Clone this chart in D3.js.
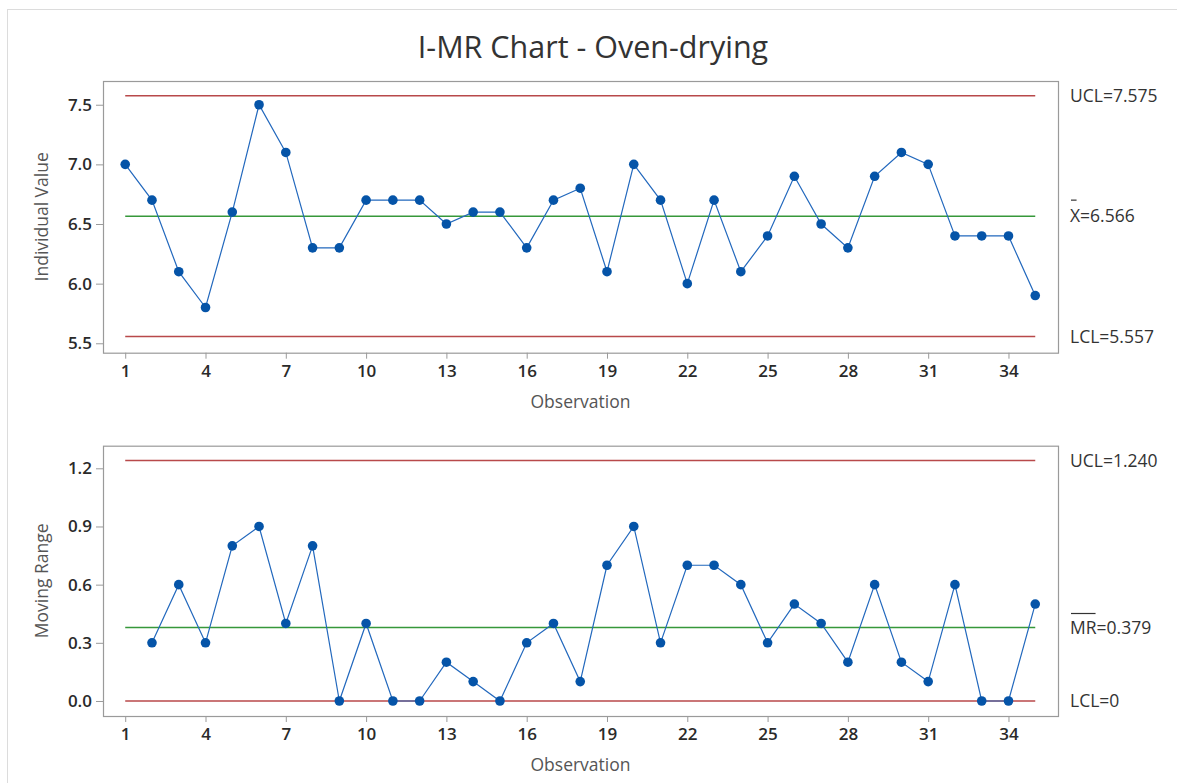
<!DOCTYPE html>
<html>
<head>
<meta charset="utf-8">
<script src="https://cdn.jsdelivr.net/npm/d3@7"></script>
<style>
  html, body { margin: 0; padding: 0; background: #fff; }
  svg { display: block; }
  text { font-family: "Open Sans", "Noto Sans", sans-serif; }
</style>
</head>
<body>
<svg id="chart" width="1177" height="783"></svg>
<script>
// ---- Data ----
const observations = d3.range(1, 36);
const individualValues = [7.0, 6.7, 6.1, 5.8, 6.6, 7.5, 7.1, 6.3, 6.3, 6.7,
  6.7, 6.7, 6.5, 6.6, 6.6, 6.3, 6.7, 6.8, 6.1, 7.0,
  6.7, 6.0, 6.7, 6.1, 6.4, 6.9, 6.5, 6.3, 6.9, 7.1,
  7.0, 6.4, 6.4, 6.4, 5.9];
const movingRanges = [null, 0.3, 0.6, 0.3, 0.8, 0.9, 0.4, 0.8, 0.0, 0.4,
  0.0, 0.0, 0.2, 0.1, 0.0, 0.3, 0.4, 0.1, 0.7, 0.9,
  0.3, 0.7, 0.7, 0.6, 0.3, 0.5, 0.4, 0.2, 0.6, 0.2,
  0.1, 0.6, 0.0, 0.0, 0.5];
const xTickValues = [1, 4, 7, 10, 13, 16, 19, 22, 25, 28, 31, 34];
const iTickValues = [5.5, 6.0, 6.5, 7.0, 7.5];
const mrTickValues = [0.0, 0.3, 0.6, 0.9, 1.2];
const iLimits = { ucl: 7.575, center: 6.566, lcl: 5.557 };
const mrLimits = { ucl: 1.240, center: 0.379, lcl: 0 };
const iLimitLabels = { ucl: "UCL=7.575", centerSym: "X", centerVal: "=6.566", lcl: "LCL=5.557" };
const mrLimitLabels = { ucl: "UCL=1.240", centerSym: "MR", centerVal: "=0.379", lcl: "LCL=0" };
const titleText = "I-MR Chart - Oven-drying";

// ---- Styles ----
const COL_LINE = "#2268bd", COL_PT = "#0554a8", COL_RED = "#b8494a", COL_GREEN = "#36983a";
const COL_FRAME = "#9a9a9a";

const svg = d3.select("#chart");

// outer page frame
svg.append("rect").attr("x", 7.5).attr("y", 9.5).attr("width", 1200).attr("height", 800)
  .attr("fill", "none").attr("stroke", "#dcdcdc").attr("stroke-width", 1);

svg.append("text").attr("x", 593).attr("y", 58).attr("text-anchor", "middle")
  .attr("font-size", 30.5).attr("fill", "#333").text(titleText);

const frameLeft = 103, frameRight = 1058;
const x = d3.scaleLinear().domain([0.17, 35.85]).range([frameLeft, frameRight]);

function panel(opts) {
  const { top, bottom, yDomain, values, limits, labels, yTicks, yFmt, yLabel, barWide } = opts;
  const y = d3.scaleLinear().domain(yDomain).range([bottom, top]);
  const g = svg.append("g");

  // x axis
  const xa = g.append("g").attr("transform", `translate(0,${bottom})`)
    .call(d3.axisBottom(x).tickValues(xTickValues).tickSize(6).tickPadding(6).tickFormat(d3.format("d")));
  xa.select(".domain").remove();
  xa.selectAll(".tick line").attr("stroke", COL_FRAME);
  xa.selectAll(".tick text").attr("font-size", 17).attr("font-weight", 600).attr("fill", "#2a2a2a")
    .attr("font-family", "Open Sans, sans-serif");

  // y axis
  const ya = g.append("g").attr("transform", `translate(${frameLeft},0)`)
    .call(d3.axisLeft(y).tickValues(yTicks).tickSize(7).tickPadding(4).tickFormat(yFmt));
  ya.select(".domain").remove();
  ya.selectAll(".tick line").attr("stroke", COL_FRAME);
  ya.selectAll(".tick text").attr("font-size", 17).attr("font-weight", 600).attr("fill", "#2a2a2a")
    .attr("font-family", "Open Sans, sans-serif");

  // frame
  g.append("rect").attr("x", frameLeft + 0.5).attr("y", top + 0.5)
    .attr("width", frameRight - frameLeft).attr("height", bottom - top)
    .attr("fill", "none").attr("stroke", COL_FRAME).attr("stroke-width", 1.2);

  // control lines
  const x0 = x(1), x1 = x(35);
  [["ucl", COL_RED], ["lcl", COL_RED], ["center", COL_GREEN]].forEach(([k, c]) => {
    g.append("line").attr("x1", x0).attr("x2", x1).attr("y1", y(limits[k])).attr("y2", y(limits[k]))
      .attr("stroke", c).attr("stroke-width", 1.5);
  });

  // data line + points
  const pts = observations.map((o, i) => ({ o, v: values[i] })).filter(d => d.v !== null);
  g.append("path").datum(pts)
    .attr("d", d3.line().x(d => x(d.o)).y(d => y(d.v)))
    .attr("fill", "none").attr("stroke", COL_LINE).attr("stroke-width", 1.2);
  g.selectAll("circle.pt").data(pts).enter().append("circle")
    .attr("cx", d => x(d.o)).attr("cy", d => y(d.v)).attr("r", 4.8).attr("fill", COL_PT);

  // right labels
  const lx = 1070, fs = 17.5;
  g.append("text").attr("x", lx).attr("y", y(limits.ucl)).attr("dy", "0.35em")
    .attr("font-size", fs).attr("fill", "#333").text(labels.ucl);
  g.append("text").attr("x", lx).attr("y", y(limits.lcl)).attr("dy", "0.35em")
    .attr("font-size", fs).attr("fill", "#333").text(labels.lcl);
  const ct = g.append("text").attr("x", lx).attr("y", y(limits.center)).attr("dy", "0.35em")
    .attr("font-size", fs).attr("fill", "#333");
  const symSpan = ct.append("tspan").text(labels.centerSym);
  ct.append("tspan").text(labels.centerVal);
  let symW = 11;
  try { symW = symSpan.node().getComputedTextLength(); } catch (e) {}
  const cy = y(limits.center);
  if (barWide) {
    g.append("line").attr("x1", lx + 1).attr("x2", lx + symW - 1)
      .attr("y1", cy - 14).attr("y2", cy - 14).attr("stroke", "#333").attr("stroke-width", 1.2);
  } else {
    g.append("line").attr("x1", lx + 1).attr("x2", lx + symW * 0.65)
      .attr("y1", cy - 16).attr("y2", cy - 16).attr("stroke", "#333").attr("stroke-width", 1.2);
  }

  // axis titles
  g.append("text").attr("transform", `translate(48,${(top + bottom) / 2}) rotate(-90)`)
    .attr("text-anchor", "middle").attr("font-size", 17.5).attr("fill", "#555").text(yLabel);
  g.append("text").attr("x", (frameLeft + frameRight) / 2 + 0).attr("y", bottom + 55)
    .attr("text-anchor", "middle").attr("font-size", 17.5).attr("fill", "#555").text("Observation");
}

panel({ top: 81, bottom: 352.7, yDomain: [5.421, 7.699], values: individualValues, limits: iLimits,
  labels: iLimitLabels, yTicks: iTickValues, yFmt: d3.format(".1f"), yLabel: "Individual Value", barWide: false });
panel({ top: 445.7, bottom: 716, yDomain: [-0.0774, 1.3166], values: movingRanges, limits: mrLimits,
  labels: mrLimitLabels, yTicks: mrTickValues, yFmt: d3.format(".1f"), yLabel: "Moving Range", barWide: true });
</script>
</body>
</html>
